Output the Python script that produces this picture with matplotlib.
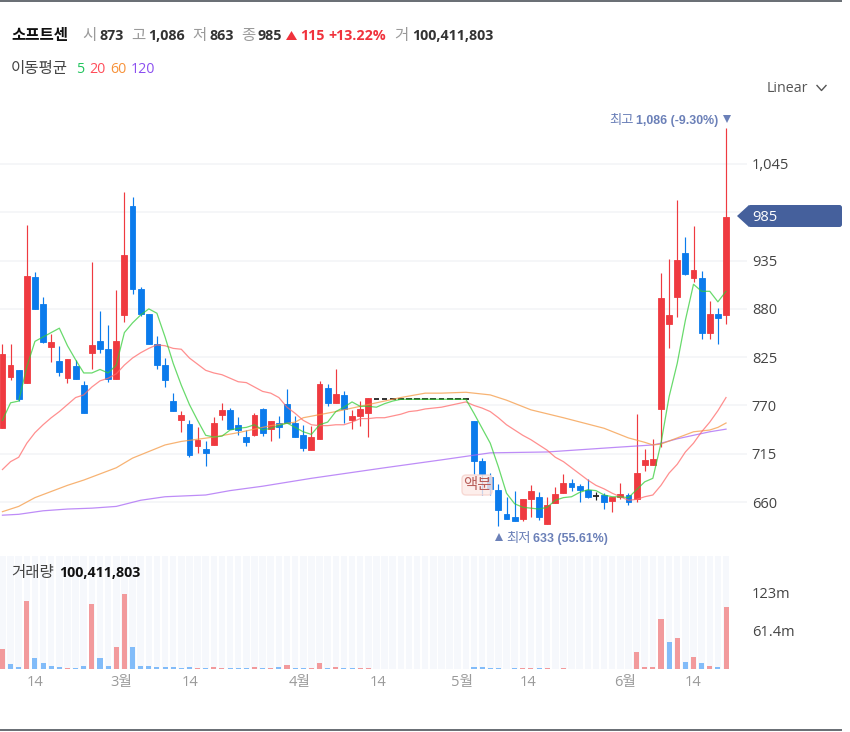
import matplotlib
matplotlib.use("Agg")
import matplotlib.pyplot as plt
from matplotlib.patches import Polygon, FancyBboxPatch, Rectangle
from matplotlib.lines import Line2D
from matplotlib.transforms import IdentityTransform

plt.rcParams['font.family'] = ['Open Sans', 'Noto Sans CJK KR', 'DejaVu Sans']

W, H = 850, 732

opens = [744,802,810,796,916,886,837,821,801,815,793,830,843,834,800,873,997,903,874,840,816,775,753,749,724,720,725,759,765,748,734,736,766,743,750,772,750,736,719,732,790,773,782,753,758,761,
         777,777,777,777,777,777,777,777,777,777,777,777,
         752,707,689,674,646,643,641,664,666,635,659,670,682,678,674,667,668,661,666,668,664,702,702,766,863,894,944,915,915,853,874,873]
highs = [840,840,810,976,922,894,851,838,823,822,798,933,878,862,901,1013,1007,905,874,849,824,784,764,753,745,729,757,773,767,757,742,761,767,752,758,789,758,748,747,798,794,812,787,765,775,778,
         777,777,777,777,777,777,777,777,777,777,777,777,
         752,710,693,681,666,673,664,679,671,666,677,692,686,681,686,671,670,666,682,670,760,720,732,921,937,1004,962,974,923,889,881,1086]
lows = [744,799,775,796,880,841,820,804,796,800,761,812,830,797,800,865,897,872,840,812,791,764,740,711,716,701,725,753,743,736,724,735,735,729,733,750,734,718,719,732,769,773,750,743,747,734,
        777,777,777,777,777,777,777,777,777,777,777,777,
        692,668,668,633,641,638,638,643,640,635,659,670,673,660,665,662,652,649,663,657,660,695,702,723,835,871,919,911,846,846,840,863]
closes = [829,816,777,917,880,842,842,808,823,800,761,839,834,800,843,941,903,874,840,816,799,764,759,714,731,716,750,765,743,742,728,759,739,752,745,750,734,722,734,794,773,783,766,758,766,778,
          777,777,777,777,777,777,777,777,777,777,777,777,
          707,692,675,651,641,638,664,673,643,657,669,682,677,674,666,667,660,666,669,660,693,708,709,892,873,936,920,924,853,874,870,985]

ma5 = [753,773,775,814,843,848,853,858,838,822,807,807,811,807,816,853,864,873,880,875,848,818,793,771,753,736,734,735,742,744,745,748,742,744,747,750,745,740,737,748,751,763,768,774,769,769,768,772,775,
       777,777,777,777,777,777,777,777,777,
       761,744,727,700,670,658,654,653,652,654,662,665,666,671,674,673,668,666,666,665,674,683,687,727,780,818,867,908,900,900,888,900]
ma20 = [697,706,711,727,739,748,756,763,771,779,782,791,798,801,806,816,824,830,835,839,838,835,834,824,817,810,807,805,801,797,796,791,786,784,779,768,761,753,748,747,747,748,748,751,755,755,756,756,758,760,763,764,766,767,768,770,772,774,
        770,767,763,756,748,742,736,731,725,719,711,706,699,692,685,679,675,670,666,662,663,666,668,679,693,703,717,727,740,751,764,779]
ma60_idx = [0,2,4,8,10,14,16,20,22,26,29,33,36,37,41,45,49,52,54,57,60,62,65,69,74,77,79,80,81,83,85,87,88,89]
ma60 = [649,655,665,679,685,699,710,725,729,734,739,747,751,756,763,771,779,784,784,785,782,776,765,756,744,733,728,725,726,733,740,742,745,750]
ma120_idx = [0,2,5,8,11,14,17,20,25,28,32,38,47,54,57,60,67,75,80,81,83,85,87,89]
ma120 = [645,646,650,652,653,655,662,666,668,673,678,687,699,708,712,716,717,722,725,727,732,736,740,743]

volume = [32,7.5,3.2,110,17,9,5,3.5,1.2,1.2,4.5,105,17,5,36,121,36,5,5,3,3,3,1.5,3,1.2,1.2,3,1.2,1.2,1.2,1.2,3,1.2,1.2,3,7,1.2,1.2,1.2,9,1.2,3,1.2,1.2,1.2,1.2,
          0,0,0,0,0,0,0,0,0,0,0,0,
          3,3,1.5,1.5,0,1.5,1.5,1.5,1.5,1.5,0,1.5,0,0,0,0,0,0,0,0,27,3,3,80,44,50,11,19,9,5,3,100.41]
vol_up = [1,0,0,1,0,0,0,0,1,0,0,1,0,0,1,1,0,0,0,0,0,0,0,0,1,0,1,1,0,0,0,1,0,1,0,1,0,0,1,1,0,1,0,0,1,1,
          0,0,0,0,0,0,0,0,0,0,0,0,
          0,0,0,0,0,0,1,1,0,1,0,1,0,0,0,0,0,0,0,0,1,1,1,1,0,1,0,1,0,1,0,1]

price_ticks = [1045,990,935,880,825,770,715,660]
price_labels = ['1,045','','935','880','825','770','715','660']
vol_ticks = [61.4,123]
vol_labels = ['61.4m','123m']
x_tick_pos = [4,14.6,23.1,36.5,46.2,56.5,64.6,76.6,84.9]
x_tick_labels = ['14','3월','14','4월','14','5월','14','6월','14']

RED, BLUE, DARK = '#ef3a40', '#0b7bec', '#222222'
VRED, VBLUE = '#f29a9c', '#82bcf9'

fig = plt.figure(figsize=(W/100, H/100), dpi=100, facecolor='white')

def pix_axes(x0, y0, x1, y1):
    return fig.add_axes([x0/W, 1-y1/H, (x1-x0)/W, (y1-y0)/H])

XL = (-0.3, 91.58)
ax = pix_axes(0, 110, 747, 550)
ax.set_xlim(*XL)
ax.set_ylim(605.35, 1106.5)
ax.patch.set_alpha(0)
for s in ax.spines.values():
    s.set_visible(False)
ax.yaxis.tick_right()
ax.set_yticks(price_ticks, price_labels)
ax.tick_params(axis='y', length=0, pad=3.5, labelsize=10.5, labelcolor='#444444')
ax.set_xticks([])
ax.grid(axis='y', color='#f5f6f8', lw=1.3, zorder=0)
ax.set_axisbelow(True)

for i, (o, h, l, c) in enumerate(zip(opens, highs, lows, closes)):
    col = RED if c > o else BLUE if c < o else DARK
    if h > l:
        ax.vlines(i, l, h, color=col, lw=0.85, zorder=3)
    ax.bar(i, abs(c-o), bottom=min(o, c), width=0.72, color=col, edgecolor=col,
           lw=1.3 if c == o else 0.6, zorder=3)

xs = list(range(len(opens)))
ax.plot(ma120_idx, ma120, color='#a866f5', alpha=0.75, lw=0.9, zorder=4)
ax.plot(ma60_idx, ma60, color='#f59a45', alpha=0.75, lw=0.9, zorder=4)
ax.plot(xs, ma20, color='#ff6a6a', alpha=0.75, lw=0.9, zorder=4)
ax.plot(xs, ma5, color='#2fcc34', alpha=0.72, lw=0.9, zorder=5)

vax = pix_axes(0, 556, 747, 669)
vax.set_xlim(*XL)
vax.set_ylim(0, 182.5)
vax.patch.set_alpha(0)
for s in vax.spines.values():
    s.set_visible(False)
vax.bar(xs, [182.5]*len(xs), width=0.8, color='#f6f8fc', zorder=1)
vax.bar(xs, volume, width=0.62, color=[VRED if u else VBLUE for u in vol_up], zorder=2)
vax.yaxis.tick_right()
vax.set_yticks(vol_ticks, vol_labels)
vax.tick_params(axis='y', length=0, pad=3.5, labelsize=10.5, labelcolor='#444444')
vax.set_xticks(x_tick_pos, x_tick_labels)
vax.tick_params(axis='x', length=0, pad=4.5, labelsize=10.5, labelcolor='#9a9a9a')

def T(x, y, s, color='#222222', bold=False, size=10.3, ha='left', fam=None):
    t = fig.text(x/W, 1-(y+5)/H, s, color=color, fontweight='bold' if bold else 'normal',
                 fontsize=size, ha=ha, va='baseline', zorder=10)
    if fam:
        t.set_fontfamily(fam)

GR = '#9a9a9a'
HRED = '#f0323c'
KO = 11.2
T(11, 35, '소프트센', '#111111', True, size=KO)
T(82, 35, '시', GR, size=KO); T(99, 35, '873', '#333333', True)
T(131, 35, '고', GR, size=KO); T(148, 35, '1,086', '#333333', True)
T(192, 35, '저', GR, size=KO); T(209, 35, '863', '#333333', True)
T(241, 35, '종', GR, size=KO); T(258, 35, '985', '#333333', True)
T(300, 35, '115', HRED, True); T(328, 35, '+13.22%', HRED, True)
T(394, 35, '거', GR, size=KO); T(412, 35, '100,411,803', '#333333', True)
fig.add_artist(Polygon([(286, H-40), (297, H-40), (291.5, H-31)], closed=True, fc=HRED, ec='none',
                       transform=IdentityTransform()))

T(11, 68, '이동평균', '#444444', size=KO)
T(76, 68, '5', '#22c55e'); T(89, 68, '20', '#ff4d5a')
T(110, 68, '60', '#f7923a'); T(131, 68, '120', '#8b4ff0')

T(767, 87, 'Linear', '#555555', size=10.3)
fig.add_artist(Line2D([817, 821.5, 826], [H-85.5, H-90.5, H-85.5], color='#555555', lw=1,
                      transform=IdentityTransform()))

T(11, 572, '거래량', '#444444', size=KO)
T(59, 572, '100,411,803', '#111111', True)

AN = '#6b80b8'
LS = ['Liberation Sans']
T(609, 119, '최고', AN, size=9.6); T(636, 119, '1,086 (-9.30%)', AN, True, size=8.9, fam=LS)
fig.add_artist(Polygon([(723, H-115), (731, H-115), (727, H-123)], closed=True, fc=AN, ec='none',
                       transform=IdentityTransform(), zorder=10))
T(506, 537, '최저', AN, size=9.6); T(533, 537, '633 (55.61%)', AN, True, size=8.9, fam=LS)
fig.add_artist(Polygon([(495, H-541), (503, H-541), (499, H-533)], closed=True, fc=AN, ec='none',
                       transform=IdentityTransform(), zorder=10))

# price tag for the last close
TAG = '#45609c'
fig.add_artist(FancyBboxPatch((748, H-227), 94, 22, boxstyle='round,pad=0,rounding_size=2.5', fc=TAG, ec='none',
                              transform=IdentityTransform(), zorder=6))
fig.add_artist(Polygon([(737, H-216), (749, H-205), (749, H-227)], closed=True, fc=TAG, ec='none',
                       transform=IdentityTransform(), zorder=6))
T(752, 216, '985', 'white', size=10.5)

# adjustment badge
fig.add_artist(FancyBboxPatch((462, H-495), 30, 20, boxstyle='round,pad=0,rounding_size=4', fc='#fdeae7', ec='#f6d2cc',
                              lw=1, alpha=0.8, transform=IdentityTransform(), zorder=8))
T(477, 484, '액분', '#b9605c', size=11.2, ha='center')

# frame rules
fig.add_artist(Rectangle((0, H-2), 842, 1.6, fc='#6b7076', ec='none', transform=IdentityTransform()))
fig.add_artist(Rectangle((0, H-731), 842, 1.6, fc='#6b7076', ec='none', transform=IdentityTransform()))

fig.savefig('out.png', dpi=100, facecolor='white')
